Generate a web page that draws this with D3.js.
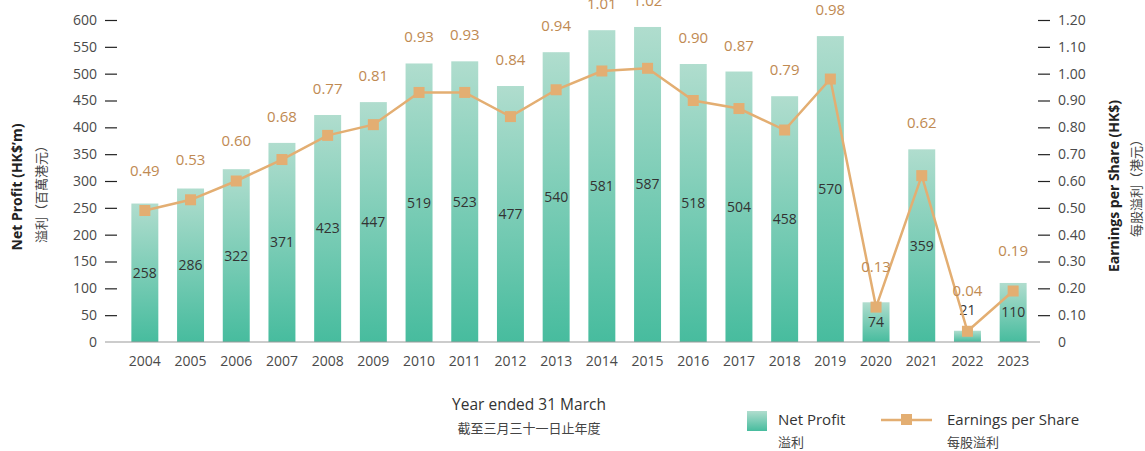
<!DOCTYPE html>
<html>
<head>
<meta charset="utf-8">
<script src="https://cdn.jsdelivr.net/npm/d3@7"></script>
<style>
  body { margin: 0; background: #fff; }
  svg text { font-family: "Open Sans", "Noto Sans CJK TC", sans-serif; }
</style>
</head>
<body>
<svg class="chart" width="1145" height="451"></svg>
<script>
const years = ["2004","2005","2006","2007","2008","2009","2010","2011","2012","2013",
               "2014","2015","2016","2017","2018","2019","2020","2021","2022","2023"];
const netProfit = [258, 286, 322, 371, 423, 447, 519, 523, 477, 540,
                   581, 587, 518, 504, 458, 570, 74, 359, 21, 110];
const eps = [0.49, 0.53, 0.60, 0.68, 0.77, 0.81, 0.93, 0.93, 0.84, 0.94,
             1.01, 1.02, 0.90, 0.87, 0.79, 0.98, 0.13, 0.62, 0.04, 0.19];
const leftTicks = [0, 50, 100, 150, 200, 250, 300, 350, 400, 450, 500, 550, 600];
const rightTicks = [0, 0.1, 0.2, 0.3, 0.4, 0.5, 0.6, 0.7, 0.8, 0.9, 1.0, 1.1, 1.2];

const data = years.map((y, i) => ({year: y, np: netProfit[i], eps: eps[i]}));

const svg = d3.select(".chart");
const lineColor = "#e3ae72";
const labelColor = "#c08a52";

const x = d3.scaleBand().domain(years).range([122, 1036]).paddingInner(0.41).paddingOuter(0.205);
const yL = d3.scaleLinear().domain([0, 600]).range([342, 20]);
const yR = d3.scaleLinear().domain([0, 1.2]).range([342, 20]);
const cx = d => x(d.year) + x.bandwidth() / 2;

// gradient for bars
const defs = svg.append("defs");
const grad = defs.append("linearGradient")
    .attr("id", "barGrad")
    .attr("x1", 0).attr("y1", 0).attr("x2", 0).attr("y2", 1);
grad.append("stop").attr("offset", "0%").attr("stop-color", "#b0ddce");
grad.append("stop").attr("offset", "100%").attr("stop-color", "#47bc9e");

// left axis
const leftAxis = svg.append("g")
    .attr("transform", "translate(117,0)")
    .call(d3.axisLeft(yL).tickValues(leftTicks).tickSize(12).tickPadding(8));
leftAxis.select(".domain").remove();
leftAxis.selectAll(".tick line").attr("stroke", "#222").attr("stroke-width", 1.2);
leftAxis.selectAll(".tick text").style("font-size", "14px").attr("fill", "#4a4a4a");
leftAxis.selectAll(".tick").filter(d => d === 0).select("line").remove();

// right axis
const rightAxis = svg.append("g")
    .attr("transform", "translate(1038,0)")
    .call(d3.axisRight(yR).tickValues(rightTicks).tickSize(12).tickPadding(8)
        .tickFormat(d => d === 0 ? "0" : d3.format(".2f")(d)));
rightAxis.select(".domain").remove();
rightAxis.selectAll(".tick line").attr("stroke", "#222").attr("stroke-width", 1.2);
rightAxis.selectAll(".tick text").style("font-size", "14px").attr("fill", "#4a4a4a");
rightAxis.selectAll(".tick").filter(d => d === 0).select("line").remove();

// bars
svg.selectAll(".bar")
    .data(data)
    .enter()
    .append("rect")
    .attr("class", "bar")
    .attr("x", d => x(d.year))
    .attr("width", x.bandwidth())
    .attr("y", d => yL(d.np))
    .attr("height", d => yL(0) - yL(d.np))
    .attr("fill", "url(#barGrad)");

// baseline
svg.append("line")
    .attr("x1", 105).attr("x2", 1040)
    .attr("y1", yL(0)).attr("y2", yL(0))
    .attr("stroke", "#999").attr("stroke-width", 1.2);

// x labels
svg.selectAll(".xlab")
    .data(data)
    .enter()
    .append("text")
    .attr("x", cx)
    .attr("y", 366)
    .attr("text-anchor", "middle")
    .style("font-size", "14px")
    .attr("fill", "#4a4a4a")
    .text(d => d.year);

// bar value labels
const smallBar = d => (yL(0) - yL(d.np)) < 20;
svg.selectAll(".npLab")
    .data(data)
    .enter()
    .append("text")
    .attr("x", cx)
    .attr("y", d => smallBar(d) ? yL(d.np) - 16 : (yL(d.np) + yL(0)) / 2 + 5)
    .attr("text-anchor", "middle")
    .style("font-size", "14px")
    .attr("fill", "#333")
    .text(d => d.np);

// EPS line
const line = d3.line()
    .x(cx)
    .y(d => yR(d.eps));
svg.append("path")
    .datum(data)
    .attr("d", line)
    .attr("fill", "none")
    .attr("stroke", lineColor)
    .attr("stroke-width", 2.5);

svg.selectAll(".marker")
    .data(data)
    .enter()
    .append("rect")
    .attr("x", d => cx(d) - 5.5)
    .attr("y", d => yR(d.eps) - 5.5)
    .attr("width", 11).attr("height", 11)
    .attr("fill", lineColor);

// EPS labels
svg.selectAll(".epsLab")
    .data(data)
    .enter()
    .append("text")
    .attr("x", cx)
    .attr("y", d => Math.min(yL(d.np) - 21, yR(d.eps) - 35))
    .attr("text-anchor", "middle")
    .style("font-size", "15px")
    .attr("fill", labelColor)
    .text(d => d3.format(".2f")(d.eps));

// axis titles
svg.append("text")
    .attr("transform", "translate(22,187) rotate(-90)")
    .attr("text-anchor", "middle")
    .style("font-size", "14px")
    .style("font-weight", "700")
    .attr("fill", "#222")
    .text("Net Profit (HK$\u2019m)");
svg.append("text")
    .attr("transform", "translate(46,191) rotate(-90)")
    .attr("text-anchor", "middle")
    .style("font-size", "13px")
    .attr("fill", "#444")
    .text("溢利（百萬港元）");

svg.append("text")
    .attr("transform", "translate(1119,186) rotate(-90)")
    .attr("text-anchor", "middle")
    .style("font-size", "14px")
    .style("font-weight", "700")
    .attr("fill", "#222")
    .text("Earnings per Share (HK$)");
svg.append("text")
    .attr("transform", "translate(1141,185) rotate(-90)")
    .attr("text-anchor", "middle")
    .style("font-size", "13px")
    .attr("fill", "#444")
    .text("每股溢利（港元）");

// x title
svg.append("text")
    .attr("x", 529).attr("y", 410)
    .attr("text-anchor", "middle")
    .style("font-size", "15.5px")
    .attr("fill", "#333")
    .text("Year ended 31 March");
svg.append("text")
    .attr("x", 529).attr("y", 433)
    .attr("text-anchor", "middle")
    .style("font-size", "13px")
    .attr("fill", "#444")
    .text("截至三月三十一日止年度");

// legend
const legend = svg.append("g");
legend.append("rect")
    .attr("x", 747).attr("y", 411).attr("width", 20).attr("height", 20)
    .attr("fill", "url(#barGrad)");
legend.append("text")
    .attr("x", 778).attr("y", 425)
    .style("font-size", "15px").attr("fill", "#333")
    .text("Net Profit");
legend.append("text")
    .attr("x", 778).attr("y", 447)
    .style("font-size", "13px").attr("fill", "#444")
    .text("溢利");
legend.append("line")
    .attr("x1", 881).attr("x2", 932).attr("y1", 420).attr("y2", 420)
    .attr("stroke", lineColor).attr("stroke-width", 2.5);
legend.append("rect")
    .attr("x", 901).attr("y", 414).attr("width", 11).attr("height", 11)
    .attr("fill", lineColor);
legend.append("text")
    .attr("x", 947).attr("y", 425)
    .style("font-size", "15px").attr("fill", "#333")
    .text("Earnings per Share");
legend.append("text")
    .attr("x", 947).attr("y", 447)
    .style("font-size", "13px").attr("fill", "#444")
    .text("每股溢利");
</script>
</body>
</html>
